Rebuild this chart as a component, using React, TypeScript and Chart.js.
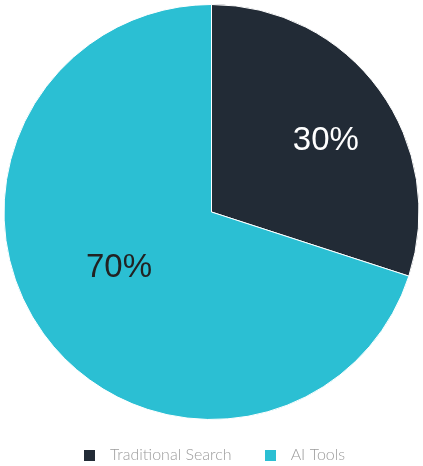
import { useEffect, useRef } from 'react';
import { Chart, registerables } from 'chart.js';

Chart.register(...registerables);

const categories = ['Traditional Search', 'AI Tools'];
const shares = [30, 70];
const sliceColors = ['#222b36', '#2bbfd3'];
const labelColors = ['#ffffff', '#222222'];
// where each % label sits: angle (deg, 0 = right, clockwise) and fraction of radius
const labelAngles = [-32, 149];
const labelRadii = [0.65, 0.52];

// small square swatch used as legend marker
function swatch(color: string) {
  const c = document.createElement('canvas');
  c.width = 11;
  c.height = 11;
  const g = c.getContext('2d');
  if (g) {
    g.fillStyle = color;
    g.fillRect(0, 0, 11, 11);
  }
  return c;
}

const percentLabels = {
  id: 'percentLabels',
  afterDatasetsDraw(chart: Chart) {
    const { ctx } = chart;
    const meta = chart.getDatasetMeta(0);
    ctx.save();
    ctx.font = '33px "Liberation Sans", Arial, sans-serif';
    ctx.textAlign = 'center';
    ctx.textBaseline = 'middle';
    meta.data.forEach((arc: any, i) => {
      const a = (labelAngles[i] * Math.PI) / 180;
      const r = arc.outerRadius * labelRadii[i];
      ctx.fillStyle = labelColors[i];
      ctx.fillText(shares[i] + '%', arc.x + Math.cos(a) * r, arc.y + Math.sin(a) * r);
    });
    ctx.restore();
  },
};

export default function App() {
  const canvasRef = useRef<HTMLCanvasElement>(null);
  const chartRef = useRef<Chart | null>(null);

  useEffect(() => {
    document.body.style.margin = '0';
    document.body.style.overflow = 'hidden';
    if (!canvasRef.current) return;
    if (chartRef.current) chartRef.current.destroy();

    chartRef.current = new Chart(canvasRef.current, {
      type: 'pie',
      data: {
        labels: categories,
        datasets: [
          {
            data: shares,
            backgroundColor: sliceColors,
            borderColor: '#ffffff',
            borderWidth: 1,
          },
        ],
      },
      options: {
        responsive: false,
        animation: false,
        layout: { padding: { top: 4, left: 0, right: 0, bottom: 0 } },
        plugins: {
          tooltip: { enabled: false },
          legend: {
            position: 'bottom',
            labels: {
              usePointStyle: true,
              pointStyleWidth: 24,
              boxHeight: 11,
              padding: 27,
              color: '#9c9c9c',
              font: { family: 'Lato, sans-serif', size: 16, weight: 300 },
              generateLabels(chart: Chart) {
                const items = Chart.overrides.pie.plugins.legend.labels.generateLabels(chart);
                return items.map((it: any, i: number) => ({
                  ...it,
                  pointStyle: swatch(sliceColors[i]),
                }));
              },
            },
          },
        },
      },
      plugins: [percentLabels],
    });

    return () => {
      if (chartRef.current) {
        chartRef.current.destroy();
        chartRef.current = null;
      }
    };
  }, []);

  return (
    <div style={{ width: 423, height: 466, overflow: 'hidden', background: '#ffffff' }}>
      <canvas ref={canvasRef} width={423} height={473}></canvas>
    </div>
  );
}
